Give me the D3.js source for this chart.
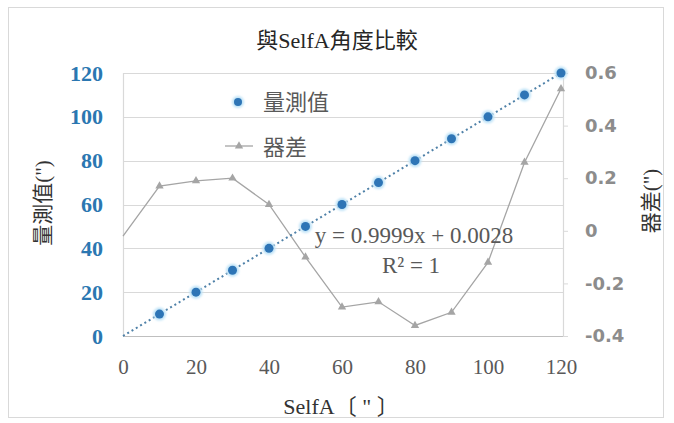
<!DOCTYPE html>
<html>
<head>
<meta charset="utf-8">
<script src="https://cdn.jsdelivr.net/npm/d3@7"></script>
<style>
  html, body { margin: 0; padding: 0; background: #fff; }
  svg { display: block; }
</style>
</head>
<body>
<svg id="chart" width="674" height="423"></svg>
<script>
// SelfA reference angles (")
const selfA = [0, 10, 20, 30, 40, 50, 60, 70, 80, 90, 100, 110, 120];
// Instrument error (") for each reference angle
const errorValues = [-0.02, 0.17, 0.19, 0.20, 0.10, -0.10, -0.29, -0.27, -0.36, -0.31, -0.12, 0.26, 0.54];
// Measured angles (")
const measuredX = [10, 20, 30, 40, 50, 60, 70, 80, 90, 100, 110, 120];
const measuredY = [10, 20, 30, 40, 50, 60, 70, 80, 90, 100, 110, 120];
// Linear trend line
const trendSlope = 0.9999, trendIntercept = 0.0028;
const xTicks = [0, 20, 40, 60, 80, 100, 120];
const leftTicks = [0, 20, 40, 60, 80, 100, 120];
const rightTicks = [-0.4, -0.2, 0, 0.2, 0.4, 0.6];

const serif = "'Liberation Serif', 'Times New Roman', 'Noto Sans CJK TC', serif";
const sans = "'DejaVu Sans', Verdana, sans-serif";

const svg = d3.select("#chart");

// outer frame
svg.append("rect").attr("x", 8.5).attr("y", 7.5).attr("width", 655).attr("height", 410)
  .attr("fill", "#fff").attr("stroke", "#d9d9d9");

const L = 123, R = 561, T = 73, B = 336;
const x = d3.scaleLinear().domain([0, 120]).range([L, R]);
const yL = d3.scaleLinear().domain([0, 120]).range([B, T]);
const yR = d3.scaleLinear().domain([-0.4, 0.6]).range([B, T]);

// horizontal gridlines
svg.append("g").selectAll("line").data(leftTicks.slice(1)).join("line")
  .attr("x1", L).attr("x2", R + 2)
  .attr("y1", d => Math.round(yL(d)) + 0.5).attr("y2", d => Math.round(yL(d)) + 0.5)
  .attr("stroke", "#d9d9d9").attr("stroke-width", 1.2);

// axis lines
svg.append("line").attr("x1", L + 0.5).attr("x2", L + 0.5).attr("y1", T).attr("y2", B)
  .attr("stroke", "#d9d9d9").attr("stroke-width", 1.2);
svg.append("line").attr("x1", L).attr("x2", R + 2).attr("y1", B + 0.5).attr("y2", B + 0.5)
  .attr("stroke", "#bfbfbf").attr("stroke-width", 1.2);

// bottom axis
const xAxis = svg.append("g").attr("transform", `translate(0,${B})`)
  .call(d3.axisBottom(x).tickValues(xTicks).tickSize(0).tickPadding(23));
xAxis.select(".domain").remove();
xAxis.selectAll("text").attr("font-family", serif).attr("font-size", 21).attr("fill", "#595959");

// left axis
const yAxisL = svg.append("g").attr("transform", `translate(${L},0)`)
  .call(d3.axisLeft(yL).tickValues(leftTicks).tickSize(0).tickPadding(20));
yAxisL.select(".domain").remove();
yAxisL.selectAll("text").attr("font-family", serif).attr("font-size", 22)
  .attr("font-weight", "bold").attr("fill", "#2b77b1");

// right axis
const yAxisR = svg.append("g").attr("transform", `translate(${R + 2},0)`)
  .call(d3.axisRight(yR).tickValues(rightTicks).tickSize(5).tickPadding(17)
    .tickFormat(d => d === 0 ? "0" : d3.format(".1f")(d).replace("\u2212", "-")));
yAxisR.select(".domain").attr("stroke", "#d9d9d9").attr("stroke-width", 1.2);
yAxisR.selectAll(".tick line").attr("stroke", "#d9d9d9");
yAxisR.selectAll("text").attr("font-family", sans).attr("font-size", 18)
  .attr("font-weight", "bold").attr("fill", "#8c8c8c");

// error series
const errPts = selfA.map((d, i) => [d, errorValues[i]]);
svg.append("path").datum(errPts)
  .attr("fill", "none").attr("stroke", "#a5a5a5").attr("stroke-width", 1.3)
  .attr("d", d3.line().x(d => x(d[0])).y(d => yR(d[1])));
const tri = d3.symbol().type(d3.symbolTriangle).size(30);
svg.append("g").selectAll("path").data(errPts.slice(1)).join("path")
  .attr("transform", d => `translate(${x(d[0])},${yR(d[1])})`)
  .attr("d", tri).attr("fill", "#a5a5a5");

// trend line
svg.append("line")
  .attr("x1", x(0)).attr("y1", yL(trendIntercept))
  .attr("x2", x(120)).attr("y2", yL(trendSlope * 120 + trendIntercept))
  .attr("stroke", "#4f81a8").attr("stroke-width", 2).attr("stroke-dasharray", "2,3");

// measured points
const glow = svg.append("defs").append("filter").attr("id", "glow")
  .attr("x", "-100%").attr("y", "-100%").attr("width", "300%").attr("height", "300%");
glow.append("feGaussianBlur").attr("stdDeviation", 1.2);
const mPts = measuredX.map((d, i) => [d, measuredY[i]]);
svg.append("g").selectAll("circle").data(mPts).join("circle")
  .attr("cx", d => x(d[0])).attr("cy", d => yL(d[1])).attr("r", 6.5)
  .attr("fill", "#bfe3f7").attr("filter", "url(#glow)");
svg.append("g").selectAll("circle").data(mPts).join("circle")
  .attr("cx", d => x(d[0])).attr("cy", d => yL(d[1])).attr("r", 4.5)
  .attr("fill", "#2e75b6");

// title
svg.append("text").attr("x", 337).attr("y", 48).attr("text-anchor", "middle")
  .attr("font-family", serif).attr("font-size", 22).attr("fill", "#262626")
  .text("與SelfA角度比較");

// axis titles
svg.append("text").attr("transform", "translate(50,203) rotate(-90)").attr("text-anchor", "middle")
  .attr("font-family", serif).attr("font-size", 21).attr("fill", "#333").text("量測值(\")");
svg.append("text").attr("transform", "translate(658,201) rotate(-90)").attr("text-anchor", "middle")
  .attr("font-family", serif).attr("font-size", 21).attr("fill", "#333").text("器差(\")");
svg.append("text").attr("x", 341).attr("y", 414).attr("text-anchor", "middle")
  .attr("font-family", serif).attr("font-size", 22).attr("fill", "#333").text("SelfA〔 \" 〕");

// legend
const lg = svg.append("g");
lg.append("circle").attr("cx", 238).attr("cy", 102).attr("r", 6).attr("fill", "#bfe3f7").attr("filter", "url(#glow)");
lg.append("circle").attr("cx", 238).attr("cy", 102).attr("r", 4).attr("fill", "#2e75b6");
lg.append("text").attr("x", 263).attr("y", 110).attr("font-family", serif).attr("font-size", 22)
  .attr("fill", "#595959").text("量測值");
lg.append("line").attr("x1", 225).attr("x2", 253).attr("y1", 146).attr("y2", 146)
  .attr("stroke", "#a5a5a5").attr("stroke-width", 1.3);
lg.append("path").attr("transform", "translate(239,146)").attr("d", tri).attr("fill", "#a5a5a5");
lg.append("text").attr("x", 263).attr("y", 155).attr("font-family", serif).attr("font-size", 22)
  .attr("fill", "#595959").text("器差");

// trend equation
svg.append("text").attr("x", 414).attr("y", 243).attr("text-anchor", "middle")
  .attr("font-family", serif).attr("font-size", 23).attr("fill", "#595959")
  .text("y = 0.9999x + 0.0028");
svg.append("text").attr("x", 411).attr("y", 273).attr("text-anchor", "middle")
  .attr("font-family", serif).attr("font-size", 23).attr("fill", "#595959")
  .text("R² = 1");
</script>
</body>
</html>
